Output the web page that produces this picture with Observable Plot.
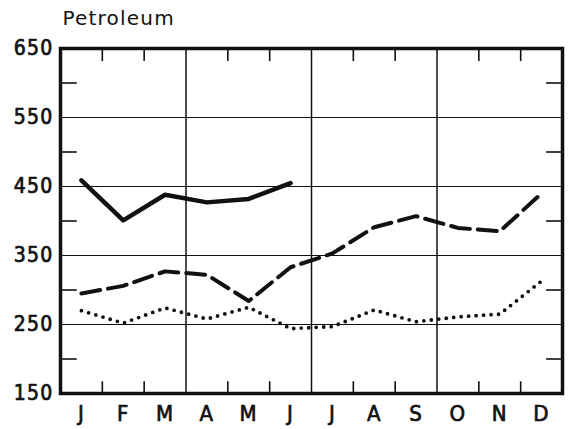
<!DOCTYPE html>
<html>
<head>
<meta charset="utf-8">
<script src="https://cdn.jsdelivr.net/npm/d3@7"></script>
<script src="https://cdn.jsdelivr.net/npm/@observablehq/plot@0.6"></script>
<style>
  html, body { margin: 0; padding: 0; background: #fff; }
  #chart { position: relative; width: 570px; height: 429px; }
</style>
</head>
<body>
<div id="chart"></div>
<script>
const title = "Petroleum";
const months = ["J","F","M","A","M","J","J","A","S","O","N","D"];
const solidSeries = [459, 401, 438, 427, 432, 455];
const dashedSeries = [295, 306, 327, 322, 284, 333, 353, 391, 407, 390, 385, 440];
const dottedSeries = [270, 252, 274, 258, 275, 244, 247, 271, 254, 261, 265, 313];
const yTickLabels = [150, 250, 350, 450, 550, 650];
const yMinorTicks = [200, 300, 400, 500, 600];
const yGrid = [250, 350, 450, 550];
const quarterLines = [2.5, 5.5, 8.5];
const monthTicks = [0.5, 1.5, 3.5, 4.5, 6.5, 7.5, 9.5, 10.5];

const toRows = arr => arr.map((v, i) => ({i, v}));
const font = "'DejaVu Sans Condensed', 'DejaVu Sans', sans-serif";

const plot = Plot.plot({
  width: 570,
  height: 429,
  marginLeft: 60,
  marginRight: 8,
  marginTop: 48,
  marginBottom: 36,
  x: {type: "linear", domain: [-0.5, 11.5], axis: null},
  y: {domain: [150, 650], axis: null},
  style: {background: "#fff"},
  marks: [
    Plot.ruleY(yGrid, {stroke: "#111", strokeWidth: 1.2}),
    Plot.ruleX(quarterLines, {stroke: "#111", strokeWidth: 1.5}),
    Plot.ruleX(monthTicks, {y1: 650, y2: 631, stroke: "#111", strokeWidth: 1.6}),
    Plot.ruleX(monthTicks, {y1: 150, y2: 167, stroke: "#111", strokeWidth: 1.6}),
    Plot.ruleY(yMinorTicks, {x1: -0.5, x2: -0.1, stroke: "#111", strokeWidth: 1.6}),
    Plot.ruleY(yMinorTicks, {x1: 11.12, x2: 11.5, stroke: "#111", strokeWidth: 1.6}),
    Plot.frame({stroke: "#111", strokeWidth: 3.5}),
    Plot.line(toRows(solidSeries), {x: "i", y: "v", stroke: "#111", strokeWidth: 4.5, strokeLinejoin: "round"}),
    Plot.line(toRows(dashedSeries), {x: "i", y: "v", stroke: "#111", strokeWidth: 4, strokeDasharray: "19 8", strokeLinejoin: "round"}),
    Plot.line(toRows(dottedSeries), {x: "i", y: "v", stroke: "#111", strokeWidth: 3.8, strokeDasharray: "0 7.5", strokeLinecap: "round", strokeLinejoin: "round"}),
    Plot.text(yTickLabels, {y: d => d, frameAnchor: "left", dx: -7, textAnchor: "end", text: d => String(d), fontSize: 21, fontFamily: font, fill: "#111", stroke: "#111", strokeWidth: 0.7, lineAnchor: "middle"}),
    Plot.text(months.map((m, i) => ({i, m})), {x: "i", text: "m", frameAnchor: "bottom", dy: 20, lineAnchor: "middle", fontSize: 22, fontFamily: font, fill: "#111", stroke: "#111", strokeWidth: 0.7}),
    Plot.text([title], {frameAnchor: "top-left", dx: 2, dy: -30, textAnchor: "start", lineAnchor: "middle", fontSize: 20, fontFamily: "'DejaVu Sans', sans-serif", fill: "#111"})
  ]
});
plot.querySelectorAll("text").forEach(t => t.style.letterSpacing = "1.2px");
document.getElementById("chart").appendChild(plot);
</script>
</body>
</html>
